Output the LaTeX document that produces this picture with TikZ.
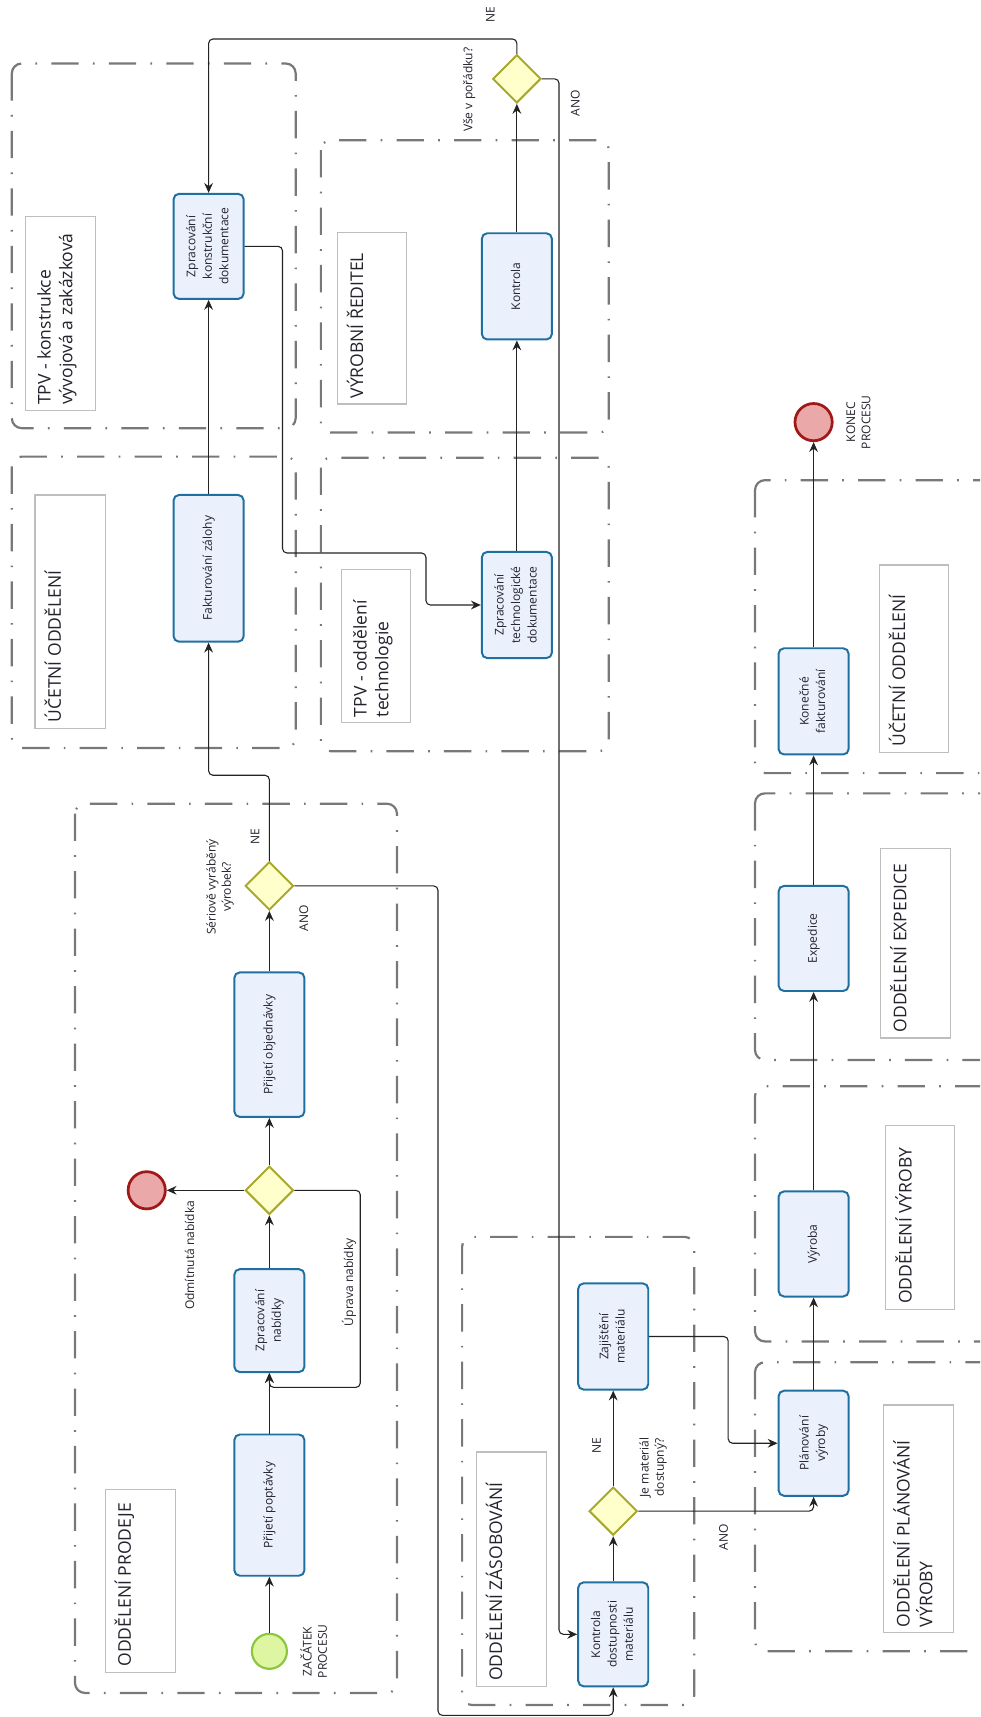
\documentclass[tikz,border=0pt]{standalone}
\usepackage{fontspec}
\setmainfont{Open Sans}
\usetikzlibrary{shapes.geometric,arrows.meta}
\definecolor{taskfill}{RGB}{235,240,253}
\definecolor{taskline}{RGB}{30,112,160}
\definecolor{gwfill}{RGB}{255,255,204}
\definecolor{gwline}{RGB}{168,168,42}
\definecolor{stfill}{RGB}{222,246,162}
\definecolor{stline}{RGB}{140,198,63}
\definecolor{endfill}{RGB}{235,168,168}
\definecolor{endline}{RGB}{160,24,24}
\definecolor{lanecol}{RGB}{120,120,120}
\definecolor{lblcol}{RGB}{190,190,190}
\definecolor{txtcol}{RGB}{35,35,45}
\definecolor{flowcol}{RGB}{35,35,35}
\newcommand{\rc}[1]{\rotatebox{90}{\begin{tabular}{@{}c@{}}#1\end{tabular}}}
\newcommand{\rl}[1]{\rotatebox{90}{\begin{tabular}{@{}l@{}}#1\end{tabular}}}
\begin{document}
\begin{tikzpicture}[x=1pt,y=-1pt,
  lane/.style={draw=lanecol, line width=2pt, rounded corners=9pt, dash pattern=on 25pt off 13pt on 1.5pt off 13pt},
  lblbox/.style={draw=lblcol, line width=1.1pt, fill=white},
  lbltext/.style={inner sep=0pt, anchor=south west, text=txtcol, font=\fontsize{16}{20}\selectfont},
  task/.style={draw=taskline, fill=taskfill, line width=1.8pt, rounded corners=5pt, inner sep=0pt, minimum width=64pt, text=txtcol, font=\fontsize{11}{15}\selectfont},
  gw/.style={diamond, draw=gwline, fill=gwfill, line width=1.8pt, minimum size=44pt, inner sep=0pt},
  startev/.style={circle, draw=stline, fill=stfill, line width=2pt, minimum size=32pt, inner sep=0pt},
  endev/.style={circle, draw=endline, fill=endfill, line width=2.5pt, minimum size=34pt, inner sep=0pt},
  small/.style={inner sep=0pt, text=txtcol, font=\fontsize{11}{14}\selectfont},
  flow/.style={draw=flowcol, line width=1pt, rounded corners=4pt, -{Stealth[length=9pt,width=8pt,inset=3pt]}}
]
\useasboundingbox (0,0) rectangle (895,1568);
\clip (0,0) rectangle (895,1568);

% lanes
\draw[lane] (10.8,58) rectangle (270,391);
\draw[lane] (293,128) rectangle (556,395);
\draw[lane] (10.8,417) rectangle (270,683);
\draw[lane] (293,418) rectangle (556,686);
\draw[lane] (68.5,734) rectangle (362.5,1546);
\draw[lane] (422,1129.5) rectangle (634,1557);
\draw[lane] (689.5,1244) rectangle (912,1508);
\draw[lane] (689.5,992) rectangle (912,1225);
\draw[lane] (689.5,724.5) rectangle (912,968);
\draw[lane] (689.5,438.5) rectangle (912,706);

% lane label boxes
\draw[lblbox] (23.5,198) rectangle (87.4,375);
\node[lbltext] (t1) at (32,370) {\rl{TPV - konstrukce\\vývojová a zakázková}};
\draw[lblbox] (308,212) rectangle (371,369);
\node[lbltext] (t2) at (316.5,364) {\rl{VÝROBNÍ ŘEDITEL}};
\draw[lblbox] (32,452) rectangle (96,665);
\node[lbltext] (t3) at (40.5,660) {\rl{ÚČETNÍ ODDĚLENÍ}};
\draw[lblbox] (312,520) rectangle (375,660);
\node[lbltext] (t4) at (320.5,655) {\rl{TPV - oddělení\\technologie}};
\draw[lblbox] (96,1360) rectangle (160,1527);
\node[lbltext] (t5) at (104.5,1522) {\rl{ODDĚLENÍ PRODEJE}};
\draw[lblbox] (435,1326) rectangle (499,1540);
\node[lbltext] (t6) at (443.5,1535) {\rl{ODDĚLENÍ ZÁSOBOVÁNÍ}};
\draw[lblbox] (807,1283) rectangle (871,1491);
\node[lbltext] (t7) at (815.5,1486) {\rl{ODDĚLENÍ PLÁNOVÁNÍ\\VÝROBY}};
\draw[lblbox] (809,1028) rectangle (872,1196);
\node[lbltext] (t8) at (817.5,1191) {\rl{ODDĚLENÍ VÝROBY}};
\draw[lblbox] (804,775) rectangle (868,948);
\node[lbltext] (t9) at (812.5,943) {\rl{ODDĚLENÍ EXPEDICE}};
\draw[lblbox] (803,516) rectangle (866,687);
\node[lbltext] (t10) at (811.5,682) {\rl{ÚČETNÍ ODDĚLENÍ}};

% nodes
\node[task, minimum height=96pt] (konstr) at (190.5,225) {\rc{Zpracování\\konstrukční\\dokumentace}};
\node[task, minimum height=97pt] (kontrola) at (472,261.5) {\rc{Kontrola}};
\node[task, minimum height=134pt] (fakt) at (190.5,519) {\rc{Fakturování zálohy}};
\node[task, minimum height=97pt] (tech) at (472,552.5) {\rc{Zpracování\\technologické\\dokumentace}};
\node[task, minimum height=132pt] (obj) at (246,954) {\rc{Přijetí objednávky}};
\node[task, minimum height=94pt] (nab) at (246,1206) {\rc{Zpracování\\nabídky}};
\node[task, minimum height=129pt] (popt) at (246,1374.5) {\rc{Přijetí poptávky}};
\node[task, minimum height=95pt] (kdost) at (560,1492.5) {\rc{Kontrola\\dostupnosti\\materiálu}};
\node[task, minimum height=97pt] (zaj) at (560,1220.5) {\rc{Zajištění\\materiálu}};
\node[task, minimum height=96pt] (plan) at (743,1318) {\rc{Plánování\\výroby}};
\node[task, minimum height=96pt] (vyroba) at (743,1136) {\rc{Výroba}};
\node[task, minimum height=96pt] (exped) at (743,857) {\rc{Expedice}};
\node[task, minimum height=97pt] (konecne) at (743,640.5) {\rc{Konečné\\fakturování}};

\node[gw] (vse) at (472,72) {};
\node[gw] (ser) at (246,809) {};
\node[gw] (gw2) at (246,1087) {};
\node[gw] (jem) at (560,1380) {};

\node[startev] (start) at (246,1508) {};
\node[endev] (end1) at (134,1087) {};
\node[endev] (end2) at (743,385.5) {};

% connectors
\draw[flow] (start) -- (popt.south);
\draw[flow] (popt.north) -- (nab.south);
\draw[flow] (nab.north) -- (gw2.south);
\draw[flow] (gw2.west) -- (end1);
\draw[flow] (gw2.east) -| (329,1267) -| (nab.south);
\draw[flow] (gw2.north) -- (obj.south);
\draw[flow] (obj.north) -- (ser.south);
\draw[flow] (ser.north) |- (190.5,708) -- (fakt.south);
\draw[flow] (ser.east) -| (400,1566.5) -| (kdost.south);
\draw[flow] (fakt.north) -- (konstr.south);
\draw[flow] (konstr.east) -| (258,505) -| (389,552.5) -- (tech.west);
\draw[flow] (tech.north) -- (kontrola.south);
\draw[flow] (kontrola.north) -- (vse.south);
\draw[flow] (vse.north) |- (190.5,35.6) -- (konstr.north);
\draw[flow] (vse.east) -| (510.5,1492.5) -- (kdost.west);
\draw[flow] (kdost.north) -- (jem.south);
\draw[flow] (jem.north) -- (zaj.south);
\draw[flow] (jem.east) -| (plan.south);
\draw[flow] (zaj.east) -| (665,1318) -- (plan.west);
\draw[flow] (plan.north) -- (vyroba.south);
\draw[flow] (vyroba.north) -- (exped.south);
\draw[flow] (exped.north) -- (konecne.south);
\draw[flow] (konecne.north) -- (end2);

% labels
\node[small] (l1) at (449,13) {\rc{NE}};
\node[small] (l2) at (428.5,82) {\rc{Vše v pořádku?}};
\node[small] (l3) at (526.5,94.5) {\rc{ANO}};
\node[small] (l4) at (234,764) {\rc{NE}};
\node[small] (l5) at (201,810) {\rc{Sériově vyráběný\\výrobek?}};
\node[small] (l6) at (278.5,838.5) {\rc{ANO}};
\node[small] (l7) at (174.5,1146.5) {\rc{Odmítnutá nabídka}};
\node[small] (l8) at (319.5,1171) {\rc{Úprava nabídky}};
\node[small] (l9) at (288.5,1508) {\rc{ZAČÁTEK\\PROCESU}};
\node[small] (l10) at (546,1320) {\rc{NE}};
\node[small] (l11) at (596.5,1340) {\rc{Je materiál\\dostupný?}};
\node[small] (l12) at (662,1404) {\rc{ANO}};
\node[small] (l13) at (785,385.5) {\rc{KONEC\\PROCESU}};
\end{tikzpicture}
\end{document}
